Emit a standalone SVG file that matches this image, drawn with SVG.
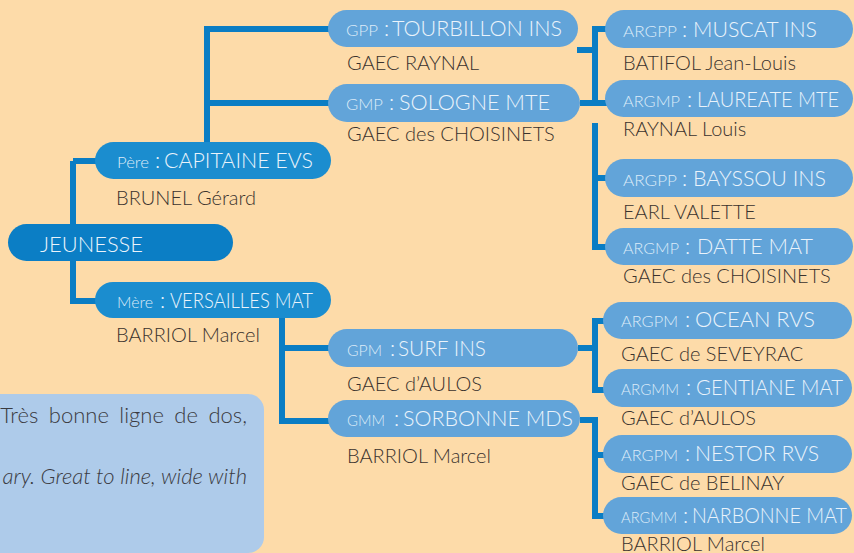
<svg xmlns="http://www.w3.org/2000/svg" width="854" height="553" viewBox="0 0 854 553">
<style>
.bg{fill:#FDDBA9}
.root{fill:#0B7EC5}
.par{fill:#1B8DCF}
.gp{fill:#62A4D9}
.lbl{font-family:Lato,"Open Sans","Liberation Sans",sans-serif;fill:#EAF3FB;font-size:21.5px;font-weight:300}
.pre{font-family:Lato,"Open Sans","Liberation Sans",sans-serif;font-size:16.5px;fill:#DCEBF8;font-weight:300}
.sub{font-family:Lato,"Open Sans","Liberation Sans",sans-serif;fill:#3A322D;font-size:20px;font-weight:300}
.note{font-family:Lato,"Open Sans","Liberation Sans",sans-serif;fill:#3A3A3F;font-size:22px;font-weight:300}
.con{fill:none;stroke:#0A7DC4;stroke-width:6;stroke-linejoin:miter}
</style>
<rect class="bg" x="0" y="0" width="854" height="553"/>
<g id="note">
<rect x="-30" y="394" width="294" height="159" rx="16" fill="#AECBEA"/>
<text class="note" x="247" y="423" text-anchor="end" word-spacing="4.5">Très bonne ligne de dos,</text>
<text class="note" x="247" y="484" text-anchor="end" font-style="italic">ary. Great to line, wide with</text>
</g>
<g id="connectors">
<path class="con" d="M73,161 H97 M73,161 V301 H97"/>
<path class="con" d="M207,143 V29 H331 M207,103 H331"/>
<path class="con" d="M282,317 V421 H331 M282,348 H331"/>
<path class="con" d="M577,50 H595 M580,103 H595 M608,29 H595 V103 H608"/>
<path class="con" d="M608,178 H595 M595,123 V250 M595,247 H608"/>
<path class="con" d="M578,348 H595 M606,321 H595 V390 H606"/>
<path class="con" d="M580,420 H595 V516 H606 M595,455 H606"/>
</g>
<g id="jeunesse">
<rect class="root" x="8" y="224" width="225" height="37" rx="18.5"/>
<text class="lbl" x="40" y="252" font-size="25" textLength="103" lengthAdjust="spacingAndGlyphs">JEUNESSE</text>
</g>
<g id="pere">
<rect class="par" x="95" y="142" width="236" height="37" rx="18.5"/>
<text class="pre" x="117" y="168" textLength="32" lengthAdjust="spacingAndGlyphs">Père</text>
<text class="lbl" x="155" y="168">:</text>
<text class="lbl" x="164" y="168" textLength="149" lengthAdjust="spacingAndGlyphs">CAPITAINE EVS</text>
<text class="sub" x="116" y="205">BRUNEL Gérard</text>
</g>
<g id="mere">
<rect class="par" x="95" y="282" width="236" height="36" rx="18"/>
<text class="pre" x="117" y="308" textLength="36" lengthAdjust="spacingAndGlyphs">Mère</text>
<text class="lbl" x="160" y="308">:</text>
<text class="lbl" x="170" y="308" textLength="143" lengthAdjust="spacingAndGlyphs">VERSAILLES MAT</text>
<text class="sub" x="116" y="342">BARRIOL Marcel</text>
</g>
<g id="gpp">
<rect class="gp" x="328" y="10" width="250" height="37" rx="18.5"/>
<text class="pre" x="346" y="36" textLength="32" lengthAdjust="spacingAndGlyphs">GPP</text>
<text class="lbl" x="384" y="36">:</text>
<text class="lbl" x="392" y="36" textLength="170" lengthAdjust="spacingAndGlyphs">TOURBILLON INS</text>
<text class="sub" x="347" y="70">GAEC RAYNAL</text>
</g>
<g id="gmp">
<rect class="gp" x="328" y="84" width="252" height="38" rx="19"/>
<text class="pre" x="346" y="110" textLength="37" lengthAdjust="spacingAndGlyphs">GMP</text>
<text class="lbl" x="389" y="110">:</text>
<text class="lbl" x="399" y="110" textLength="151" lengthAdjust="spacingAndGlyphs">SOLOGNE MTE</text>
<text class="sub" x="347" y="141">GAEC des CHOISINETS</text>
</g>
<g id="gpm">
<rect class="gp" x="328" y="329" width="250" height="38" rx="19"/>
<text class="pre" x="347" y="356" textLength="35" lengthAdjust="spacingAndGlyphs">GPM</text>
<text class="lbl" x="390" y="356">:</text>
<text class="lbl" x="398" y="356" textLength="88" lengthAdjust="spacingAndGlyphs">SURF INS</text>
<text class="sub" x="347" y="391">GAEC d’AULOS</text>
</g>
<g id="gmm">
<rect class="gp" x="328" y="400" width="252" height="37" rx="18.5"/>
<text class="pre" x="347" y="426" textLength="38" lengthAdjust="spacingAndGlyphs">GMM</text>
<text class="lbl" x="394" y="426">:</text>
<text class="lbl" x="403" y="426" textLength="170" lengthAdjust="spacingAndGlyphs">SORBONNE MDS</text>
<text class="sub" x="347" y="463">BARRIOL Marcel</text>
</g>
<g id="argpp1">
<rect class="gp" x="605" y="10" width="248" height="38" rx="19"/>
<text class="pre" x="623" y="37" textLength="54" lengthAdjust="spacingAndGlyphs">ARGPP</text>
<text class="lbl" x="682" y="37">:</text>
<text class="lbl" x="693" y="37" textLength="124" lengthAdjust="spacingAndGlyphs">MUSCAT INS</text>
<text class="sub" x="623" y="70">BATIFOL Jean-Louis</text>
</g>
<g id="argmp1">
<rect class="gp" x="605" y="80" width="248" height="37" rx="18.5"/>
<text class="pre" x="623" y="107" textLength="57" lengthAdjust="spacingAndGlyphs">ARGMP</text>
<text class="lbl" x="687" y="107">:</text>
<text class="lbl" x="697" y="107" textLength="142" lengthAdjust="spacingAndGlyphs">LAUREATE MTE</text>
<text class="sub" x="623" y="136">RAYNAL Louis</text>
</g>
<g id="argpp2">
<rect class="gp" x="605" y="159" width="248" height="38" rx="19"/>
<text class="pre" x="623" y="186" textLength="54" lengthAdjust="spacingAndGlyphs">ARGPP</text>
<text class="lbl" x="682" y="186">:</text>
<text class="lbl" x="693" y="186" textLength="133" lengthAdjust="spacingAndGlyphs">BAYSSOU INS</text>
<text class="sub" x="623" y="219">EARL VALETTE</text>
</g>
<g id="argmp2">
<rect class="gp" x="605" y="228" width="248" height="37" rx="18.5"/>
<text class="pre" x="623" y="254" textLength="56" lengthAdjust="spacingAndGlyphs">ARGMP</text>
<text class="lbl" x="685" y="254">:</text>
<text class="lbl" x="697" y="254" textLength="116" lengthAdjust="spacingAndGlyphs">DATTE MAT</text>
<text class="sub" x="623" y="283">GAEC des CHOISINETS</text>
</g>
<g id="argpm1">
<rect class="gp" x="603" y="302" width="249" height="37" rx="18.5"/>
<text class="pre" x="621" y="327" textLength="57" lengthAdjust="spacingAndGlyphs">ARGPM</text>
<text class="lbl" x="685" y="327">:</text>
<text class="lbl" x="695" y="327" textLength="120" lengthAdjust="spacingAndGlyphs">OCEAN RVS</text>
<text class="sub" x="621" y="361">GAEC de SEVEYRAC</text>
</g>
<g id="argmm1">
<rect class="gp" x="603" y="369" width="249" height="38" rx="19"/>
<text class="pre" x="621" y="395" textLength="58" lengthAdjust="spacingAndGlyphs">ARGMM</text>
<text class="lbl" x="686" y="395">:</text>
<text class="lbl" x="696" y="395" textLength="147" lengthAdjust="spacingAndGlyphs">GENTIANE MAT</text>
<text class="sub" x="621" y="425">GAEC d’AULOS</text>
</g>
<g id="argpm2">
<rect class="gp" x="603" y="435" width="249" height="38" rx="19"/>
<text class="pre" x="621" y="461" textLength="57" lengthAdjust="spacingAndGlyphs">ARGPM</text>
<text class="lbl" x="685" y="461">:</text>
<text class="lbl" x="695" y="461" textLength="124" lengthAdjust="spacingAndGlyphs">NESTOR RVS</text>
<text class="sub" x="621" y="490">GAEC de BELINAY</text>
</g>
<g id="argmm2">
<rect class="gp" x="603" y="497" width="249" height="37" rx="18.5"/>
<text class="pre" x="621" y="523" textLength="56" lengthAdjust="spacingAndGlyphs">ARGMM</text>
<text class="lbl" x="683" y="523">:</text>
<text class="lbl" x="692" y="523" textLength="155" lengthAdjust="spacingAndGlyphs">NARBONNE MAT</text>
<text class="sub" x="621" y="551">BARRIOL Marcel</text>
</g>
</svg>
